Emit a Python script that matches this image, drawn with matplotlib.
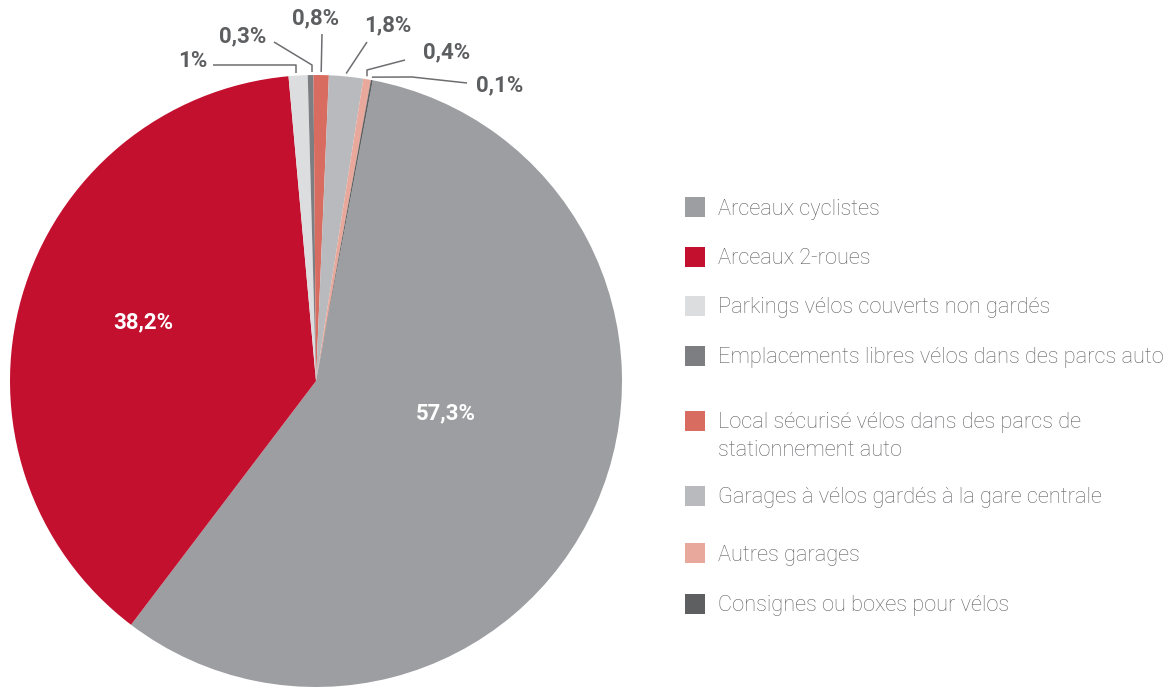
import numpy as np
import matplotlib
matplotlib.use('Agg')
import matplotlib.pyplot as plt
from matplotlib.patches import Rectangle

# ---------------------------------------------------------------------------
# Data
# ---------------------------------------------------------------------------
CATEGORIES = [
    'Arceaux cyclistes',
    'Arceaux 2-roues',
    'Parkings vélos couverts non gardés',
    'Emplacements libres vélos dans des parcs auto',
    'Local sécurisé vélos dans des parcs de\nstationnement auto',
    'Garages à vélos gardés à la gare centrale',
    'Autres garages',
    'Consignes ou boxes pour vélos',
]
SHARES = [57.3, 38.2, 1.0, 0.3, 0.8, 1.8, 0.4, 0.1]
LABELS = ['57,3%', '38,2%', '1%', '0,3%', '0,8%', '1,8%', '0,4%', '0,1%']
COLORS = ['#9d9ea2', '#c3102f', '#dcdddf', '#7d7e82',
          '#d96c60', '#b9babd', '#e8a89b', '#5e5f61']

# ---------------------------------------------------------------------------
# Layout (pixel coordinates, y measured from the top)
# ---------------------------------------------------------------------------
W, H = 1176, 690
CX, CY, R = 316, 381, 306
START = 79.3

# inner labels
INNER_POS = {0: (446, 413), 1: (143, 322)}
# outer labels: text centre, elbow points of the leader line,
# and whether the last segment drops vertically onto the wedge
OUTER = {
    2: ((193, 61), [(213, 65), (296, 65)], True),
    3: ((243, 36), [(274, 42), (312, 65)], True),
    4: ((316, 18), [(322, 34)], False),
    5: ((388, 25), [(367, 42)], False),
    6: ((447, 52), [(405, 60), (367, 70)], True),
    7: ((500, 85), [(467, 83), (412, 77)], False),
}
LEG_X, LEG_TXT_X, LEG_SQ = 685, 718, 20
LEG_Y = [207, 257, 306, 356, 421, 496, 553, 604]

LABEL_COLOR = '#5d5e60'
LINE_COLOR = '#6d6e71'
TEXT_COLOR = '#616265'


def py(y):
    return H - y


fig = plt.figure(figsize=(W / 100, H / 100), dpi=100)
ax = fig.add_axes([0, 0, 1, 1])

wedges, _ = ax.pie(SHARES, colors=COLORS, startangle=START, counterclock=False,
                   center=(CX, py(CY)), radius=R,
                   wedgeprops=dict(linewidth=0))
ax.set_xlim(0, W)
ax.set_ylim(0, H)
ax.set_aspect('equal')
ax.axis('off')

font = dict(family=['Roboto', 'DejaVu Sans'])

for i, (x, y) in INNER_POS.items():
    ax.text(x, py(y), LABELS[i], color='white', fontsize=16, fontweight='bold',
            ha='center', va='center', **font)

for i, ((tx, ty), elbows, drop) in OUTER.items():
    w = wedges[i]
    mid = np.deg2rad((w.theta1 + w.theta2) / 2)
    # leader line ends just above the pie edge, over the wedge
    ex = CX + R * np.cos(mid)
    ey = CY - R * np.sin(mid) - 3
    pts = [(x, py(y)) for x, y in elbows]
    if drop:
        pts.append((elbows[-1][0], py(ey)))
    else:
        pts.append((ex, py(ey)))
    xs, ys = zip(*pts)
    ax.plot(xs, ys, color=LINE_COLOR, lw=1.1, solid_capstyle='butt')
    ax.text(tx, py(ty), LABELS[i], color=LABEL_COLOR, fontsize=16,
            fontweight='bold', ha='center', va='center', **font)

for cat, col, y in zip(CATEGORIES, COLORS, LEG_Y):
    ax.add_patch(Rectangle((LEG_X, py(y) - LEG_SQ / 2), LEG_SQ, LEG_SQ,
                           facecolor=col, edgecolor='none'))
    if '\n' in cat:
        ax.text(LEG_TXT_X, py(y) + 9, cat, color=TEXT_COLOR, fontsize=15.7,
                fontweight='light', ha='left', va='top', linespacing=1.45,
                **font)
    else:
        ax.text(LEG_TXT_X, py(y) - 2, cat, color=TEXT_COLOR, fontsize=15.7,
                fontweight='light', ha='left', va='center', **font)

fig.savefig('out.png', dpi=100)
